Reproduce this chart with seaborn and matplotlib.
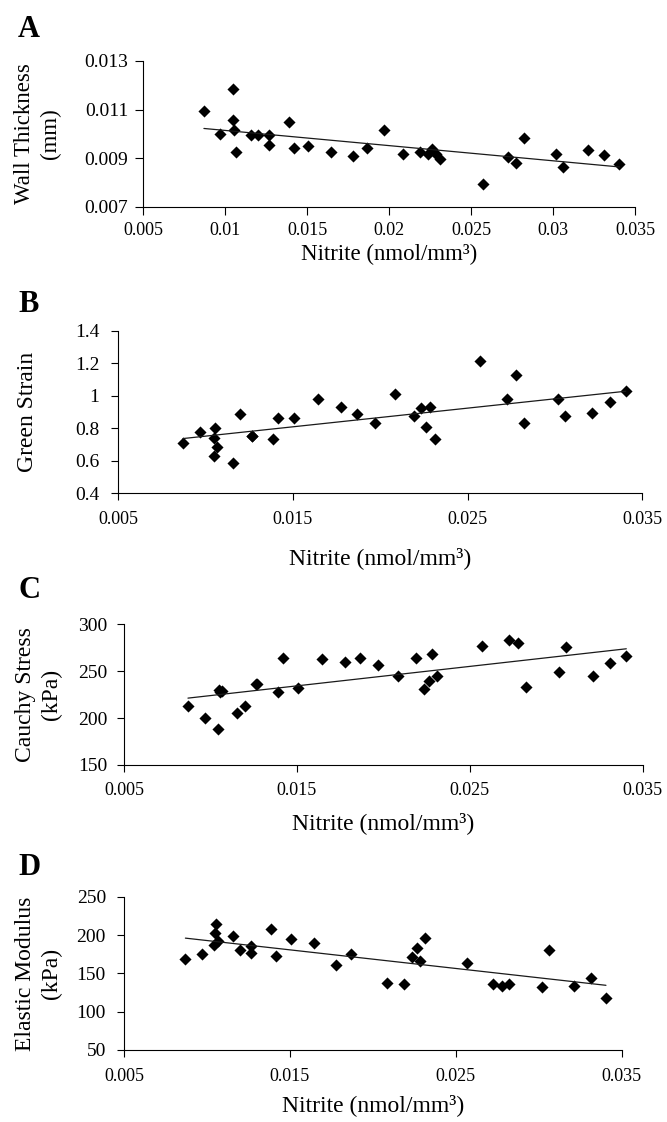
import numpy as np
import pandas as pd
import matplotlib
matplotlib.use('Agg')
import matplotlib.pyplot as plt
import seaborn as sns

# estilo
sns.set_style("ticks")
plt.rcParams['font.family'] = ['Liberation Serif', 'DejaVu Serif']
plt.rcParams['axes.linewidth'] = 0.8
plt.rcParams['axes.edgecolor'] = 'black'
plt.rcParams['text.color'] = 'black'
plt.rcParams['axes.labelcolor'] = 'black'
plt.rcParams['xtick.color'] = 'black'
plt.rcParams['ytick.color'] = 'black'

# dados (mesmas amostras nos 4 paineis)
nitrite = [0.0087, 0.0097, 0.01045, 0.01048, 0.01056, 0.01066, 0.01156, 0.01199,
           0.01265, 0.01268, 0.01388, 0.01417, 0.01505, 0.01646, 0.01777, 0.01866,
           0.01970, 0.02083, 0.02190, 0.02235, 0.02264, 0.02284, 0.02312, 0.02570,
           0.02725, 0.02776, 0.02823, 0.03017, 0.03059, 0.03213, 0.03313, 0.03405]

wall_thickness = [0.01094, 0.01000, 0.01183, 0.01057, 0.01014, 0.00925, 0.00994, 0.00994,
                  0.00954, 0.00994, 0.01050, 0.00940, 0.00949, 0.00926, 0.00909, 0.00940,
                  0.01014, 0.00918, 0.00926, 0.00918, 0.00936, 0.00916, 0.00898, 0.00795,
                  0.00905, 0.00881, 0.00984, 0.00918, 0.00865, 0.00935, 0.00912, 0.00875]

green_strain = [0.706, 0.777, 0.740, 0.629, 0.802, 0.681, 0.586, 0.884,
                0.752, 0.752, 0.730, 0.863, 0.863, 0.982, 0.931, 0.886,
                0.829, 1.007, 0.874, 0.921, 0.808, 0.931, 0.730, 1.214,
                0.976, 1.126, 0.829, 0.982, 0.874, 0.894, 0.961, 1.029]

cauchy_stress = [212.9, 199.8, 188.1, 230.0, 228.2, 229.0, 205.1, 212.9,
                 236.0, 236.0, 228.2, 263.7, 231.8, 262.7, 260.1, 263.7,
                 256.6, 245.2, 264.4, 231.0, 239.9, 268.3, 244.9, 277.2,
                 283.2, 279.7, 233.5, 248.8, 275.5, 244.9, 258.4, 266.2]

elastic_modulus = [168.7, 175.2, 187.0, 203.0, 214.0, 192.2, 198.7, 180.5,
                   186.1, 176.9, 207.9, 173.0, 194.4, 190.0, 160.9, 175.2,
                   np.nan, 137.8, 135.7, 171.7, 183.5, 166.1, 196.5, 163.9,
                   135.7, 133.5, 135.7, 131.8, 180.5, 133.9, 144.3, 118.2]

# ticks
xticks_a = [0.005, 0.01, 0.015, 0.02, 0.025, 0.03, 0.035]
xticklabels_a = ['0.005', '0.01', '0.015', '0.02', '0.025', '0.03', '0.035']
xticks_bcd = [0.005, 0.015, 0.025, 0.035]
xticklabels_bcd = ['0.005', '0.015', '0.025', '0.035']

yticks_a = [0.007, 0.009, 0.011, 0.013]
yticklabels_a = ['0.007', '0.009', '0.011', '0.013']
yticks_b = [0.4, 0.6, 0.8, 1.0, 1.2, 1.4]
yticklabels_b = ['0.4', '0.6', '0.8', '1', '1.2', '1.4']
yticks_c = [150, 200, 250, 300]
yticks_d = [50, 100, 150, 200, 250]

df = pd.DataFrame({'nitrite': nitrite, 'wall': wall_thickness, 'strain': green_strain,
                   'stress': cauchy_stress, 'modulus': elastic_modulus})

xlabel = 'Nitrite (nmol/mm\u00b3)'

fig = plt.figure(figsize=(6.67, 11.22), dpi=100)

# posicoes dos eixos (fração da figura)
ax_a = fig.add_axes([0.2148, 0.8158, 0.7372, 0.1299])
ax_b = fig.add_axes([0.1774, 0.5606, 0.7856, 0.1447])
ax_c = fig.add_axes([0.1859, 0.3182, 0.7777, 0.1254])
ax_d = fig.add_axes([0.1859, 0.0642, 0.7462, 0.1366])

paineis = [
    (ax_a, 'wall', 'Wall Thickness\n(mm)', (0.007, 0.013), yticks_a, yticklabels_a,
     xticks_a, xticklabels_a, -0.1674, 6.0, 4.7, 4.8, 4.0, 16.5),
    (ax_b, 'strain', 'Green Strain', (0.4, 1.4), yticks_b, yticklabels_b,
     xticks_bcd, xticklabels_bcd, -0.1527, 5.3, 8.0, 8.4, 13.7, 17),
    (ax_c, 'stress', 'Cauchy Stress\n(kPa)', (150, 300), yticks_c, [str(v) for v in yticks_c],
     xticks_bcd, xticklabels_bcd, -0.1195, 5.3, 7.0, 6.8, 9.0, 17),
    (ax_d, 'modulus', 'Elastic Modulus\n(kPa)', (50, 250), yticks_d, [str(v) for v in yticks_d],
     xticks_bcd, xticklabels_bcd, -0.1246, 5.3, 7.5, 7.7, 6.5, 17),
]

for ax, col, ylab, ylim, yt, ytl, xt, xtl, ylab_x, ticklen, xpad, ypad, xlabpad, labsize in paineis:
    sns.regplot(data=df, x='nitrite', y=col, ax=ax, ci=None, marker='D', color='black',
                scatter_kws={'s': 38, 'linewidths': 0, 'alpha': 1},
                line_kws={'lw': 0.9, 'color': '#1a1a1a'}, truncate=True)
    ax.set_xlim(0.005, 0.035)
    ax.set_ylim(*ylim)
    ax.set_xticks(xt)
    ax.set_xticklabels(xtl)
    ax.set_yticks(yt)
    ax.set_yticklabels(ytl)
    ax.tick_params(axis='both', direction='out', length=ticklen, width=0.8)
    ax.tick_params(axis='x', pad=xpad, labelsize=13)
    ax.tick_params(axis='y', pad=ypad, labelsize=14)
    ax.set_xlabel(xlabel, fontsize=labsize, labelpad=xlabpad)
    ax.set_ylabel(ylab, fontsize=labsize, linespacing=1.3)
    ax.yaxis.set_label_coords(ylab_x, 0.5)
    ax.set_facecolor('white')
    sns.despine(ax=ax)

# letras dos paineis
letras = ['A', 'B', 'C', 'D']
baselines = [37, 311.7, 598, 875]
for letra, base in zip(letras, baselines):
    fig.text(18 / 667, 1 - base / 1122, letra, fontsize=22, fontweight='bold', va='baseline', ha='left')

fig.savefig('out.png', dpi=100, facecolor='white')
